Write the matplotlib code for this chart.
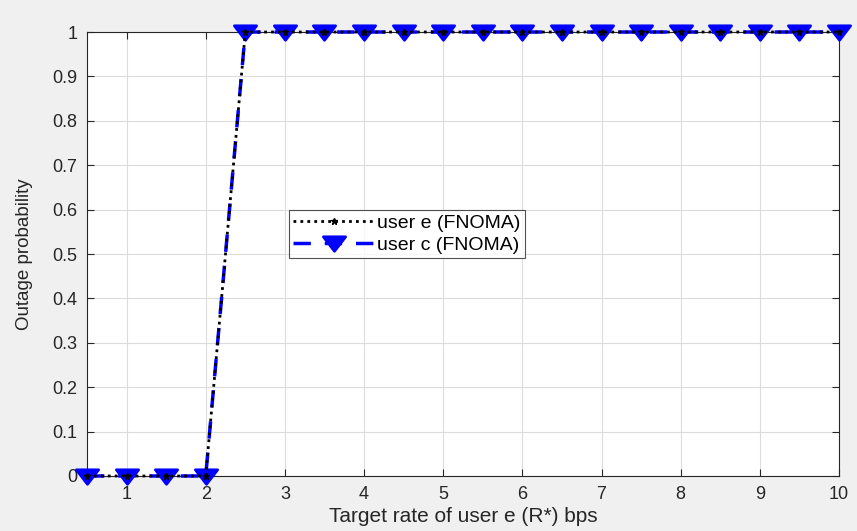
import matplotlib.pyplot as plt
from matplotlib.path import Path

plt.rcParams["font.family"] = ["Liberation Sans", "DejaVu Sans"]

rate = [0.5, 1, 1.5, 2, 2.5, 3, 3.5, 4, 4.5, 5, 5.5, 6, 6.5, 7, 7.5, 8, 8.5, 9, 9.5, 10]
outage_e = [0, 0, 0, 0, 1, 1, 1, 1, 1, 1, 1, 1, 1, 1, 1, 1, 1, 1, 1, 1]
outage_c = [0, 0, 0, 0, 1, 1, 1, 1, 1, 1, 1, 1, 1, 1, 1, 1, 1, 1, 1, 1]

# squat down-triangle, the reference looks stretched sideways
tri = Path([(-1.0, 0.6), (1.0, 0.6), (0.0, -0.7), (-1.0, 0.6)],
           [Path.MOVETO, Path.LINETO, Path.LINETO, Path.CLOSEPOLY])

fig = plt.figure(figsize=(8.57, 5.31), dpi=100, facecolor="#f0f0f0")
ax = fig.add_axes([0.1015, 0.1036, 0.8775, 0.8361])

ax.plot(rate, outage_c, color="blue", linestyle=(0, (5, 4)), linewidth=2.5,
        marker=tri, markersize=16, markerfacecolor="blue", markeredgecolor="blue",
        markeredgewidth=2, label="user c (FNOMA)", zorder=3, clip_on=False)
ax.plot(rate, outage_e, color="black", linestyle=(0, (1, 1.5)), linewidth=2,
        marker="*", markersize=5, markerfacecolor="black", markeredgecolor="black",
        label="user e (FNOMA)", zorder=4, clip_on=False)

ax.set_xlim(0.5, 10)
ax.set_ylim(0, 1)
ax.set_xticks(range(1, 11))
ax.set_yticks([i / 10 for i in range(11)])
ax.set_yticklabels(["0", "0.1", "0.2", "0.3", "0.4", "0.5", "0.6", "0.7", "0.8", "0.9", "1"])
ax.tick_params(direction="in", top=True, right=True, labelsize=13, length=5,
               colors="#262626", pad=7)
ax.grid(True, color="#dcdcdc", linewidth=0.8)
ax.set_axisbelow(True)
for spine in ax.spines.values():
    spine.set_color("#262626")
    spine.set_linewidth(0.8)

ax.set_xlabel("Target rate of user e (R*) bps", fontsize=15, color="#262626", labelpad=3)
ax.set_ylabel("Outage probability", fontsize=13.5, color="#262626", labelpad=14)

handles, labels = ax.get_legend_handles_labels()
leg = ax.legend(handles[::-1], labels[::-1], loc="lower left",
                bbox_to_anchor=(0.268, 0.49), fontsize=14, frameon=True,
                fancybox=False, edgecolor="#262626", handlelength=4.2,
                borderpad=0.25, labelspacing=0.2, handletextpad=0.1,
                borderaxespad=0)
leg.get_frame().set_linewidth(0.8)

fig.savefig("out.png", dpi=100, facecolor=fig.get_facecolor())
